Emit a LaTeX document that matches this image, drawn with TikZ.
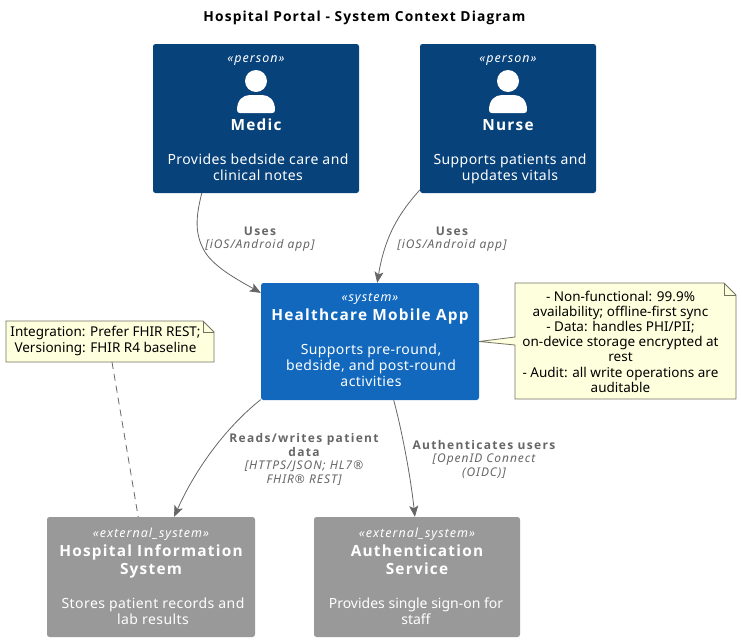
\documentclass[tikz,border=0pt]{standalone}
\usepackage{fontspec}
\setmainfont{Noto Sans}
\newfontfamily\widefont[LetterSpace=8]{Noto Sans}
\newfontfamily\boldfont[LetterSpace=8]{Open Sans}
\newfontfamily\lblfont[LetterSpace=11]{Open Sans}
\newfontfamily\descfont[LetterSpace=3]{Noto Sans}
\usetikzlibrary{arrows.meta, backgrounds}
\definecolor{personblue}{HTML}{08427B}
\definecolor{systemblue}{HTML}{1168BD}
\definecolor{extgray}{HTML}{999999}
\definecolor{linegray}{HTML}{666666}
\definecolor{notefill}{HTML}{FEFFDD}
\begin{document}
\begin{tikzpicture}[x=1pt,y=-1pt]
  \tikzset{box/.style={rectangle, rounded corners=2.5pt, inner sep=0pt}}
  \tikzset{personbox/.style={box, fill=personblue, minimum width=206pt, minimum height=149pt}}
  \tikzset{nursebox/.style={box, fill=personblue, minimum width=176pt, minimum height=149pt}}
  \tikzset{systembox/.style={box, fill=systemblue, minimum width=218pt, minimum height=117pt}}
  \tikzset{extbox/.style={box, fill=extgray, minimum width=208pt, minimum height=120pt}}
  \tikzset{stereo/.style={text=white, inner sep=0pt, font=\widefont\itshape\fontsize{12.5}{14}\selectfont}}
  \tikzset{boxname/.style={text=white, inner sep=0pt, align=center, font=\boldfont\bfseries\fontsize{15.4}{18}\selectfont}}
  \tikzset{desc/.style={text=white, inner sep=0pt, align=center, font=\descfont\fontsize{14}{16}\selectfont}}
  \tikzset{usesarrow/.style={draw=linegray, line width=0.8pt, -{Stealth[length=11pt,width=9pt,inset=2.5pt]}}}
  \tikzset{lbl/.style={text=linegray, inner sep=0pt, align=center, font=\lblfont\bfseries\fontsize{12}{14}\selectfont}}
  \tikzset{tech/.style={text=linegray, inner sep=0pt, align=center, font=\widefont\itshape\fontsize{12}{14}\selectfont}}
  \tikzset{notetext/.style={inner sep=0pt, align=center, font=\fontsize{13.5}{15.2}\selectfont}}
  \tikzset{noteline/.style={draw=black!55!notefill, fill=notefill, line width=0.8pt}}
  \tikzset{notefold/.style={draw=black!55!notefill, line width=0.8pt}}
  \tikzset{personhead/.style={fill=white}}
  \useasboundingbox (0,0) rectangle (742,643);

  \node[inner sep=0pt, font=\boldfont\bfseries\fontsize{13.8}{16}\selectfont] (title) at (364.5,18) {Hospital Portal - System Context Diagram};

  % people
  \node[personbox] (medic) at (256,118.5) {};
  \node[stereo] (medicstereo) at (256,61) {«person»};
  \fill[personhead] (256,81) circle (11);
  \fill[personhead] (237,110) .. controls (237,100) and (243,95) .. (250,95) -- (262,95) .. controls (269,95) and (275,100) .. (275,110) .. controls (275,112) and (274,113) .. (272,113) -- (240,113) .. controls (238,113) and (237,112) .. (237,110) -- cycle;
  \node[boxname] (medicname) at (256,125) {Medic};
  \node[desc] (medicdesc) at (258,167) {Provides bedside care and\\clinical notes};

  \node[nursebox] (nurse) at (508,118.5) {};
  \node[stereo] (nursestereo) at (508,61) {«person»};
  \fill[personhead] (508,81) circle (11);
  \fill[personhead] (489,110) .. controls (489,100) and (495,95) .. (502,95) -- (514,95) .. controls (521,95) and (527,100) .. (527,110) .. controls (527,112) and (526,113) .. (524,113) -- (492,113) .. controls (490,113) and (489,112) .. (489,110) -- cycle;
  \node[boxname] (nursename) at (508,125.5) {Nurse};
  \node[desc] (nursedesc) at (510,169) {Supports patients and\\updates vitals};

  % systems
  \node[systembox] (app) at (370,341.5) {};
  \node[stereo] (appstereo) at (370,299) {«system»};
  \node[boxname] (appname) at (370,316) {Healthcare Mobile App};
  \node[desc] (appdesc) at (371,365) {Supports pre-round,\\bedside, and post-round\\activities};

  \node[extbox] (his) at (151,577) {};
  \node[stereo] (hisstereo) at (151,534) {«external\_system»};
  \node[boxname] (hisname) at (151,561.5) {Hospital Information\\System};
  \node[desc] (hisdesc) at (153,611) {Stores patient records and\\lab results};

  \node[extbox, minimum width=206pt] (auth) at (417,577) {};
  \node[stereo] (authstereo) at (417,534) {«external\_system»};
  \node[boxname] (authname) at (417,560) {Authentication\\Service};
  \node[desc, font=\fontsize{14}{16}\selectfont] (authdesc) at (416,611) {Provides single sign-on for\\staff};

  % notes
  \node[notetext] (integration) at (105.5,341) {Integration: Prefer FHIR REST;\\Versioning: FHIR R4 baseline};
  \coordinate (integrationnw) at (6,321);
  \coordinate (integrationse) at (214,362);
  \coordinate (integrationsw) at (6,362);
  \coordinate (integrationtail) at (112,362);
  \node[notetext] (quality) at (620.5,341.5) {- Non-functional: 99.9\%\\availability; offline-first sync\\- Data: handles PHI/PII;\\on-device storage encrypted at\\rest\\- Audit: all write operations are\\auditable};
  \begin{scope}[on background layer]
    \draw[noteline] (integrationnw) -- (203,321) -- (214,332) -- (integrationse) -- (integrationsw) -- cycle;
    \draw[notefold] (203,321) -- (203,332) -- (214,332);
    \draw[noteline] (515,283) -- (724,283) -- (736,295) -- (736,399) -- (515,399) -- (515,345) -- (app.east) -- (515,337) -- cycle;
    \draw[notefold] (724,283) -- (724,295) -- (736,295);
  \end{scope}

  % relations
  \draw[usesarrow] (medic.234.6) .. controls (197,213) and (193,232) .. (205,252) .. controls (215,268) and (240,281) .. (app.156);
  \node[lbl] (medicuses) at (260,231) {Uses};
  \node[tech] (medictech) at (260,245) {[iOS/Android app]};

  \draw[usesarrow] (nurse.219.9) .. controls (400,212) and (385,235) .. (app.83.2);
  \node[lbl] (nurseuses) at (452,231) {Uses};
  \node[tech] (nursetech) at (452,245) {[iOS/Android app]};

  \draw[usesarrow] (app.208.4) .. controls (225,428) and (195,470) .. (his.69.9);
  \node[lbl] (readslbl) at (304,445) {Reads/writes patient\\data};
  \node[tech] (readstech) at (304,473) {[HTTPS/JSON; HL7®\\FHIR® REST]};

  \draw[usesarrow] (app.-68.5) .. controls (403,435) and (411,480) .. (auth.92.9);
  \node[lbl] (authlbl) at (484,445) {Authenticates users};
  \node[tech] (authtech) at (484,466) {[OpenID Connect\\(OIDC)]};

  \draw[draw=linegray, line width=0.8pt, dash pattern=on 7pt off 5pt] (integrationtail) -- (his.102.2);
\end{tikzpicture}
\end{document}
